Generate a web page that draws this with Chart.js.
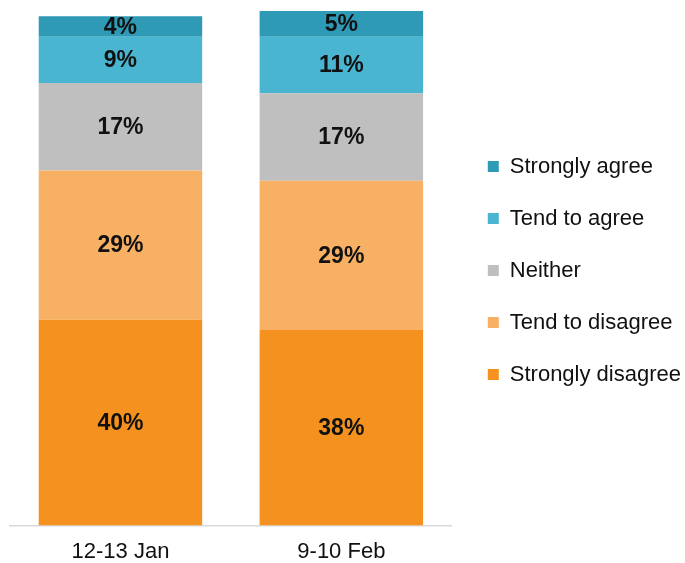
<!DOCTYPE html>
<html>
<head>
<meta charset="utf-8">
<script src="https://cdn.jsdelivr.net/npm/chart.js@4"></script>
<style>
  body { margin: 0; background: #fff; }
  #wrap { width: 685px; height: 563px; }
</style>
</head>
<body>
<div id="wrap"><canvas id="myChart" width="685" height="563"></canvas></div>
<script>
// data
const categories = ['12-13 Jan', '9-10 Feb'];
const stronglyDisagree = [40, 38];
const tendToDisagree = [29, 29];
const neither = [17, 17];
const tendToAgree = [9, 11];
const stronglyAgree = [4, 5];

const FONT = '"Liberation Sans", Arial, sans-serif';

// percent labels in the middle of each segment
const segmentLabels = {
    id: 'segmentLabels',
    afterDatasetsDraw(chart) {
        const ctx = chart.ctx;
        ctx.save();
        ctx.font = 'bold 23px ' + FONT;
        ctx.fillStyle = '#111';
        ctx.textAlign = 'center';
        ctx.textBaseline = 'middle';
        chart.data.datasets.forEach((ds, i) => {
            chart.getDatasetMeta(i).data.forEach((bar, j) => {
                const p = bar.getProps(['x', 'y', 'base'], true);
                ctx.fillText(ds.data[j] + '%', p.x, (p.y + p.base) / 2 + 1);
            });
        });
        ctx.restore();
    }
};

// nudge the legend block to where it sits in the original
const legendShift = {
    id: 'legendShift',
    afterLayout(chart) {
        const lg = chart.legend;
        lg.left += 6; lg.right += 6;
        lg.top -= 24; lg.bottom -= 24;
    }
};

const ctx = document.getElementById('myChart').getContext('2d');
const myChart = new Chart(ctx, {
    type: 'bar',
    data: {
        labels: categories,
        datasets: [
            { label: 'Strongly disagree', data: stronglyDisagree, backgroundColor: '#F5921F' },
            { label: 'Tend to disagree', data: tendToDisagree, backgroundColor: '#F7B064' },
            { label: 'Neither', data: neither, backgroundColor: '#BFBFBF' },
            { label: 'Tend to agree', data: tendToAgree, backgroundColor: '#4AB5D1' },
            { label: 'Strongly agree', data: stronglyAgree, backgroundColor: '#2E9AB5' },
        ]
    },
    options: {
        responsive: false,
        animation: false,
        events: [],
        layout: { padding: { top: 11, left: 10, right: 0, bottom: -15 } },
        datasets: { bar: { categoryPercentage: 1, barPercentage: 0.74, borderWidth: 0 } },
        scales: {
            x: {
                stacked: true,
                grid: { display: false, drawTicks: false },
                border: { display: true, color: '#D9D9D9', width: 1.5 },
                ticks: { color: '#111', padding: 13, font: { size: 22, family: FONT } }
            },
            y: {
                stacked: true,
                display: false,
                min: 0,
                max: 100
            }
        },
        plugins: {
            tooltip: { enabled: false },
            legend: {
                position: 'right',
                align: 'center',
                reverse: true,
                labels: {
                    boxWidth: 11,
                    boxHeight: 11,
                    padding: 30,
                    color: '#111',
                    font: { size: 22, family: FONT }
                }
            }
        }
    },
    plugins: [segmentLabels, legendShift]
});
</script>
</body>
</html>
